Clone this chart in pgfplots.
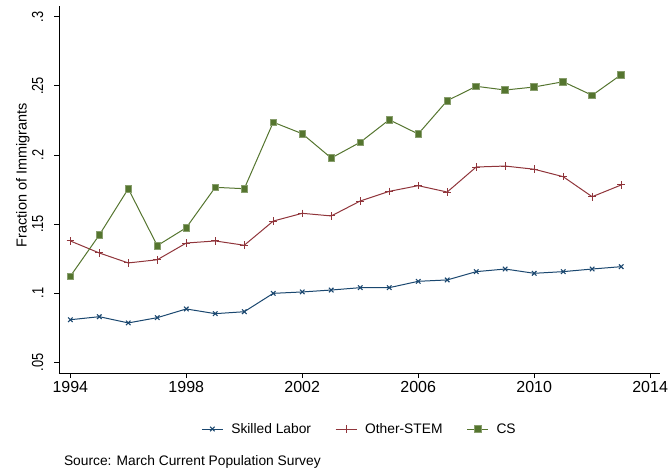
\documentclass[border=0pt]{standalone}
\usepackage{pgfplots}
\pgfplotsset{compat=1.18}
\usepackage{fontspec}
\setmainfont{Liberation Sans}
\definecolor{snavy}{RGB}{26,71,111}
\definecolor{smaroon}{RGB}{144,53,59}
\definecolor{sgreen}{RGB}{85,117,47}
\begin{document}
\begin{tikzpicture}
\useasboundingbox (-59pt,-99pt) rectangle (612pt,373pt);
\begin{axis}[
  at={(0pt,0pt)}, anchor=south west,
  scale only axis, width=601pt, height=367pt,
  xmin=1993.61, xmax=2014.34,
  ymin=0.04226, ymax=0.3078,
  axis x line*=bottom, axis y line*=left,
  axis line style={-, black, line width=0.8pt},
  tick align=outside, major tick length=5pt,
  tick style={black, line width=0.8pt},
  xtick={1994,1998,2002,2006,2010,2014},
  xticklabels={1994,1998,2002,2006,2010,2014},
  ytick={0.05,0.1,0.15,0.2,0.25,0.3},
  yticklabels={.05,.1,.15,.2,.25,.3},
  /pgf/number format/assume math mode=true,
  ticklabel style={font=\fontsize{16}{18}\selectfont},
  yticklabel style={rotate=90, xscale=0.8, anchor=south, inner sep=0pt},
  yticklabel shift=10.5pt,
  ylabel={Fraction of Immigrants},
  every axis y label/.style={at={(axis description cs:-0.0599,0.5395)}, anchor=center, rotate=90, font=\fontsize{14.5}{16}\selectfont},
  legend columns=3,
  legend style={draw=none, at={(0.5,-0.1526)}, anchor=center,
    font=\fontsize{13.8}{15}\selectfont,
    /tikz/every odd column/.append style={column sep=6pt},
    /tikz/every even column/.append style={column sep=22pt}},
  legend image code/.code={\draw[mark repeat=2,mark phase=2,#1] plot coordinates {(0pt,0pt) (10.5pt,0pt) (21pt,0pt)};},
  every axis plot/.append style={line width=1pt},
]
\addplot[color=snavy, mark=x, mark size=3.2pt, mark options={line width=1.1pt}] coordinates {
(1994,0.0808) (1995,0.0830) (1996,0.0785) (1997,0.0823) (1998,0.0886) (1999,0.0852)
(2000,0.0866) (2001,0.0999) (2002,0.1009) (2003,0.1023) (2004,0.1040) (2005,0.1040)
(2006,0.1086) (2007,0.1096) (2008,0.1156) (2009,0.1175) (2010,0.1144) (2011,0.1156)
(2012,0.1175) (2013,0.1192)};
\addlegendentry{Skilled Labor}
\addplot[color=smaroon, mark=+, mark size=3.8pt, mark options={line width=1pt}] coordinates {
(1994,0.1378) (1995,0.1291) (1996,0.1219) (1997,0.1242) (1998,0.1363) (1999,0.1378)
(2000,0.1347) (2001,0.1522) (2002,0.1578) (2003,0.1559) (2004,0.1667) (2005,0.1737)
(2006,0.1778) (2007,0.1732) (2008,0.1913) (2009,0.1920) (2010,0.1897) (2011,0.1843)
(2012,0.1698) (2013,0.1783)};
\addlegendentry{Other-STEM}
\addplot[color=sgreen, mark=square*, mark size=3.4pt, mark options={line width=0.6pt, draw=sgreen!70!white, fill=sgreen}] coordinates {
(1994,0.1122) (1995,0.1421) (1996,0.1756) (1997,0.1344) (1998,0.1474) (1999,0.1766)
(2000,0.1756) (2001,0.2237) (2002,0.2154) (2003,0.1978) (2004,0.2092) (2005,0.2255)
(2006,0.2152) (2007,0.2393) (2008,0.2497) (2009,0.2470) (2010,0.2492) (2011,0.2530)
(2012,0.2432) (2013,0.2581)};
\addlegendentry{CS}
\end{axis}
\node[anchor=base west, inner sep=0pt, font=\fontsize{13.8}{15}\selectfont] at (4.8pt,-92pt) {Source: March Current Population Survey};
\end{tikzpicture}
\end{document}
